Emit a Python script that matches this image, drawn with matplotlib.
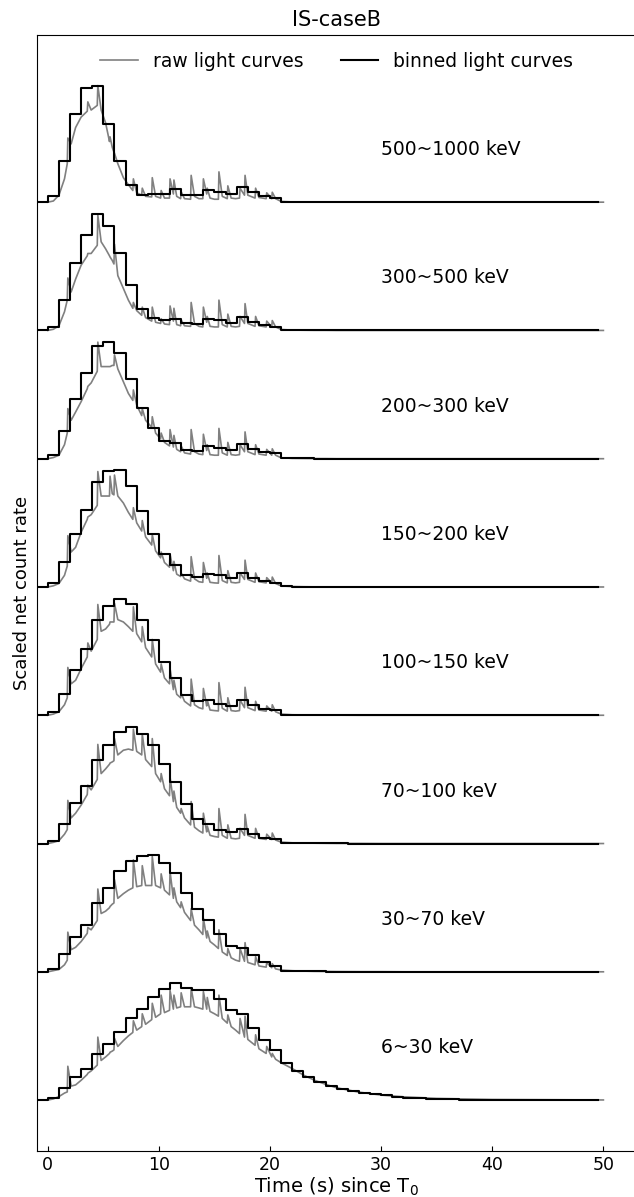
import numpy as np
import matplotlib
matplotlib.use('Agg')
import matplotlib.pyplot as plt

# energy bands (bottom -> top)
bands = ['6~30 keV', '30~70 keV', '70~100 keV', '100~150 keV',
         '150~200 keV', '200~300 keV', '300~500 keV', '500~1000 keV']

# raw light curves: shared time vertices (s)
t_raw = [0.0, 0.5, 1.0, 1.5, 1.75, 1.8, 2.1, 2.5, 3.0, 3.55,
         3.6, 3.9, 4.45, 4.5, 4.8, 5.2, 5.55, 5.6, 5.8, 5.95,
         6.0, 6.3, 6.8, 7.25, 7.65, 7.7, 8.0, 8.45, 8.5, 8.8,
         9.35, 9.4, 9.7, 10.15, 10.2, 10.5, 10.95, 11.0, 11.3, 11.35,
         11.6, 11.95, 12.0, 12.3, 12.85, 12.9, 13.2, 13.6, 13.95, 14.0,
         14.3, 14.35, 14.6, 15.0, 15.35, 15.4, 15.7, 16.15, 16.2, 16.5,
         16.9, 17.25, 17.3, 17.7, 17.75, 18.0, 18.65, 18.7, 19.0, 19.65,
         19.7, 20.15, 20.2, 20.5, 21.0, 22, 23, 24, 25, 26,
         28, 30, 32, 35, 40, 50]

raw_500_1000 = [0.0, 0.01, 0.06, 0.2, 0.33, 0.55, 0.5, 0.64, 0.73, 0.78,
                0.86, 0.79, 0.83, 1.0, 0.79, 0.68, 0.52, 0.56, 0.47, 0.43,
                0.42, 0.33, 0.21, 0.15, 0.1, 0.2, 0.08, 0.06, 0.12, 0.05,
                0.045, 0.21, 0.05, 0.035, 0.1, 0.035, 0.035, 0.2, 0.07, 0.19,
                0.05, 0.03, 0.09, 0.03, 0.025, 0.23, 0.05, 0.03, 0.03, 0.2,
                0.07, 0.12, 0.035, 0.025, 0.025, 0.26, 0.05, 0.03, 0.14, 0.035,
                0.03, 0.035, 0.12, 0.06, 0.23, 0.06, 0.035, 0.12, 0.04, 0.03,
                0.08, 0.03, 0.085, 0.03, 0.006, 0.002, 0.001, 0.001, 0.0, 0.0,
                0.0, 0.0, 0.0, 0.0, 0.0, 0.0]
raw_300_500 = [0.0, 0.01, 0.04, 0.16, 0.26, 0.45, 0.33, 0.44, 0.56, 0.64,
               0.66, 0.66, 0.73, 0.99, 0.76, 0.7, 0.64, 0.63, 0.6, 0.57,
               0.74, 0.47, 0.36, 0.26, 0.19, 0.24, 0.17, 0.13, 0.2, 0.11,
               0.08, 0.2, 0.07, 0.06, 0.1, 0.055, 0.05, 0.21, 0.08, 0.19,
               0.05, 0.04, 0.09, 0.04, 0.035, 0.24, 0.06, 0.035, 0.03, 0.2,
               0.07, 0.12, 0.035, 0.03, 0.03, 0.26, 0.05, 0.03, 0.14, 0.035,
               0.03, 0.035, 0.12, 0.06, 0.23, 0.06, 0.035, 0.12, 0.04, 0.03,
               0.08, 0.03, 0.085, 0.03, 0.008, 0.003, 0.002, 0.001, 0.001, 0.0,
               0.0, 0.0, 0.0, 0.0, 0.0, 0.0]
raw_200_300 = [0.0, 0.01, 0.03, 0.12, 0.22, 0.43, 0.33, 0.4, 0.49, 0.6,
               0.62, 0.65, 0.75, 1.0, 0.79, 0.79, 0.79, 0.79, 0.8, 0.8,
               0.89, 0.77, 0.66, 0.56, 0.5, 0.59, 0.46, 0.37, 0.43, 0.33,
               0.27, 0.36, 0.22, 0.17, 0.22, 0.14, 0.11, 0.25, 0.1, 0.2,
               0.08, 0.06, 0.11, 0.05, 0.04, 0.25, 0.06, 0.04, 0.035, 0.21,
               0.07, 0.12, 0.035, 0.03, 0.03, 0.26, 0.05, 0.03, 0.14, 0.035,
               0.03, 0.035, 0.12, 0.06, 0.23, 0.06, 0.035, 0.12, 0.04, 0.03,
               0.08, 0.03, 0.085, 0.03, 0.008, 0.003, 0.002, 0.001, 0.001, 0.0,
               0.0, 0.0, 0.0, 0.0, 0.0, 0.0]
raw_150_200 = [0.0, 0.01, 0.03, 0.1, 0.18, 0.44, 0.3, 0.34, 0.47, 0.58,
               0.6, 0.62, 0.7, 0.99, 0.78, 0.78, 0.78, 0.95, 0.8, 0.79,
               0.96, 0.78, 0.72, 0.64, 0.58, 0.68, 0.55, 0.48, 0.57, 0.43,
               0.36, 0.45, 0.31, 0.25, 0.3, 0.21, 0.17, 0.28, 0.14, 0.22,
               0.11, 0.09, 0.12, 0.07, 0.05, 0.26, 0.07, 0.045, 0.04, 0.21,
               0.075, 0.12, 0.04, 0.035, 0.033, 0.27, 0.055, 0.035, 0.14, 0.04,
               0.035, 0.04, 0.12, 0.065, 0.23, 0.065, 0.04, 0.12, 0.045, 0.035,
               0.08, 0.035, 0.085, 0.03, 0.009, 0.004, 0.002, 0.001, 0.001, 0.0,
               0.0, 0.0, 0.0, 0.0, 0.0, 0.0]
raw_100_150 = [0.0, 0.01, 0.03, 0.09, 0.15, 0.41, 0.27, 0.3, 0.4, 0.5,
               0.62, 0.55, 0.65, 0.95, 0.72, 0.74, 0.78, 0.8, 0.8, 0.8,
               0.96, 0.82, 0.8, 0.76, 0.72, 0.93, 0.7, 0.63, 0.76, 0.58,
               0.5, 0.65, 0.44, 0.37, 0.44, 0.32, 0.27, 0.4, 0.22, 0.3,
               0.18, 0.15, 0.19, 0.12, 0.08, 0.31, 0.09, 0.065, 0.055, 0.23,
               0.08, 0.13, 0.045, 0.04, 0.037, 0.28, 0.06, 0.035, 0.15, 0.04,
               0.035, 0.04, 0.13, 0.065, 0.24, 0.065, 0.04, 0.12, 0.045, 0.035,
               0.08, 0.035, 0.09, 0.03, 0.01, 0.004, 0.003, 0.002, 0.001, 0.001,
               0.0, 0.0, 0.0, 0.0, 0.0, 0.0]
raw_70_100 = [0.0, 0.01, 0.025, 0.08, 0.12, 0.37, 0.22, 0.26, 0.33, 0.42,
              0.5, 0.46, 0.55, 0.85, 0.6, 0.64, 0.68, 0.69, 0.7, 0.71,
              0.9, 0.76, 0.8, 0.81, 0.8, 0.98, 0.79, 0.76, 0.94, 0.72,
              0.66, 0.9, 0.6, 0.53, 0.6, 0.47, 0.41, 0.57, 0.36, 0.45,
              0.31, 0.26, 0.3, 0.22, 0.16, 0.36, 0.14, 0.11, 0.09, 0.26,
              0.1, 0.15, 0.07, 0.06, 0.055, 0.3, 0.07, 0.045, 0.16, 0.045,
              0.04, 0.045, 0.13, 0.07, 0.25, 0.07, 0.045, 0.13, 0.045, 0.035,
              0.08, 0.035, 0.09, 0.03, 0.012, 0.006, 0.004, 0.003, 0.002, 0.001,
              0.001, 0.0, 0.0, 0.0, 0.0, 0.0]
raw_30_70 = [0.0, 0.01, 0.02, 0.06, 0.1, 0.34, 0.19, 0.21, 0.26, 0.33,
             0.38, 0.36, 0.44, 0.71, 0.5, 0.52, 0.55, 0.56, 0.58, 0.59,
             0.79, 0.63, 0.67, 0.7, 0.72, 0.96, 0.73, 0.74, 0.91, 0.74,
             0.74, 0.99, 0.74, 0.72, 0.84, 0.7, 0.66, 0.86, 0.63, 0.72,
             0.6, 0.55, 0.6, 0.51, 0.44, 0.54, 0.4, 0.36, 0.32, 0.46,
             0.29, 0.35, 0.26, 0.23, 0.2, 0.36, 0.17, 0.14, 0.2, 0.12,
             0.1, 0.09, 0.2, 0.09, 0.25, 0.08, 0.06, 0.13, 0.05, 0.04,
             0.08, 0.035, 0.07, 0.025, 0.015, 0.009, 0.006, 0.004, 0.003, 0.002,
             0.001, 0.001, 0.0, 0.0, 0.0, 0.0]
raw_6_30 = [0.0, 0.01, 0.03, 0.06, 0.07, 0.29, 0.12, 0.13, 0.17, 0.22,
            0.23, 0.25, 0.3, 0.54, 0.34, 0.37, 0.4, 0.41, 0.42, 0.43,
            0.53, 0.46, 0.51, 0.55, 0.58, 0.68, 0.6, 0.63, 0.74, 0.65,
            0.69, 0.83, 0.71, 0.74, 0.9, 0.75, 0.77, 0.94, 0.78, 0.9,
            0.79, 0.8, 0.92, 0.8, 0.8, 0.96, 0.8, 0.79, 0.78, 0.93,
            0.78, 0.88, 0.76, 0.74, 0.72, 0.9, 0.7, 0.66, 0.73, 0.63,
            0.6, 0.57, 0.7, 0.54, 0.72, 0.52, 0.47, 0.56, 0.44, 0.4,
            0.46, 0.37, 0.4, 0.35, 0.32, 0.27, 0.215, 0.17, 0.135, 0.105,
            0.068, 0.043, 0.028, 0.014, 0.005, 0.001]

# binned light curves: 1 s bins, centres -1.5 ... 49.5
t_bin = np.arange(-1.5, 50)
bin_500_1000 = [0, 0,
                0.05, 0.354, 0.757, 0.983, 1.0, 0.671, 0.349, 0.143, 0.063, 0.074,
                0.074, 0.111, 0.063, 0.063, 0.106, 0.091, 0.069, 0.126, 0.083, 0.049,
                0.04, 0.004, 0.002, 0.001, 0.001, 0, 0, 0, 0, 0,
                0, 0, 0, 0, 0, 0, 0, 0, 0, 0,
                0, 0, 0, 0, 0, 0, 0, 0, 0, 0]
bin_300_500 = [0, 0,
               0.03, 0.263, 0.577, 0.82, 1.0, 0.894, 0.666, 0.391, 0.186, 0.109,
               0.086, 0.1, 0.063, 0.057, 0.1, 0.086, 0.063, 0.111, 0.071, 0.043,
               0.029, 0.004, 0.002, 0.001, 0.001, 0, 0, 0, 0, 0,
               0, 0, 0, 0, 0, 0, 0, 0, 0, 0,
               0, 0, 0, 0, 0, 0, 0, 0, 0, 0]
bin_200_300 = [0, 0,
               0.03, 0.237, 0.511, 0.731, 0.969, 1.0, 0.903, 0.683, 0.431, 0.26,
               0.151, 0.131, 0.074, 0.066, 0.111, 0.094, 0.074, 0.126, 0.083, 0.054,
               0.046, 0.005, 0.003, 0.002, 0.001, 0.001, 0, 0, 0, 0,
               0, 0, 0, 0, 0, 0, 0, 0, 0, 0,
               0, 0, 0, 0, 0, 0, 0, 0, 0, 0]
bin_150_200 = [0, 0,
               0.03, 0.214, 0.454, 0.663, 0.9, 0.994, 1.0, 0.866, 0.651, 0.451,
               0.286, 0.191, 0.1, 0.086, 0.114, 0.1, 0.077, 0.123, 0.08, 0.049,
               0.037, 0.005, 0.003, 0.002, 0.001, 0.001, 0, 0, 0, 0,
               0, 0, 0, 0, 0, 0, 0, 0, 0, 0,
               0, 0, 0, 0, 0, 0, 0, 0, 0, 0]
bin_100_150 = [0, 0,
               0.026, 0.186, 0.391, 0.569, 0.814, 0.934, 1.0, 0.951, 0.814, 0.643,
               0.457, 0.323, 0.171, 0.123, 0.129, 0.094, 0.077, 0.129, 0.086, 0.057,
               0.043, 0.006, 0.003, 0.002, 0.001, 0.001, 0, 0, 0, 0,
               0, 0, 0, 0, 0, 0, 0, 0, 0, 0,
               0, 0, 0, 0, 0, 0, 0, 0, 0, 0]
bin_70_100 = [0, 0,
              0.023, 0.166, 0.346, 0.494, 0.714, 0.846, 0.96, 1.0, 0.943, 0.846,
              0.68, 0.531, 0.337, 0.209, 0.166, 0.117, 0.1, 0.123, 0.08, 0.051,
              0.04, 0.008, 0.004, 0.003, 0.002, 0.001, 0.001, 0, 0, 0,
              0, 0, 0, 0, 0, 0, 0, 0, 0, 0,
              0, 0, 0, 0, 0, 0, 0, 0, 0, 0]
bin_30_70 = [0, 0,
             0.023, 0.149, 0.3, 0.4, 0.594, 0.72, 0.863, 0.951, 0.991, 1.0,
             0.937, 0.851, 0.677, 0.537, 0.443, 0.32, 0.223, 0.206, 0.143, 0.086,
             0.049, 0.009, 0.005, 0.004, 0.003, 0.002, 0.001, 0.001, 0, 0,
             0, 0, 0, 0, 0, 0, 0, 0, 0, 0,
             0, 0, 0, 0, 0, 0, 0, 0, 0, 0]
bin_6_30 = [0, 0,
            0.014, 0.106, 0.2, 0.266, 0.391, 0.477, 0.586, 0.7, 0.78, 0.88,
            0.949, 1.0, 0.962, 0.945, 0.945, 0.865, 0.775, 0.74, 0.62, 0.512,
            0.426, 0.317, 0.251, 0.196, 0.157, 0.12, 0.094, 0.078, 0.064, 0.05,
            0.04, 0.03, 0.022, 0.016, 0.012, 0.008, 0.006, 0.004, 0.003, 0.002,
            0.002, 0.001, 0.001, 0.001, 0.001, 0.001, 0.001, 0.001, 0.001, 0.001]

raw_curves = [raw_6_30, raw_30_70, raw_70_100, raw_100_150,
              raw_150_200, raw_200_300, raw_300_500, raw_500_1000]
bin_curves = [bin_6_30, bin_30_70, bin_70_100, bin_100_150,
              bin_150_200, bin_200_300, bin_300_500, bin_500_1000]
step = 1.1  # vertical offset between bands

plt.rcParams['font.size'] = 12.5
fig = plt.figure(figsize=(6.34, 11.97), dpi=100)
ax = fig.add_axes([0.0579, 0.0384, 0.9464, 0.9326])

for i, (lab, raw, binned) in enumerate(zip(bands, raw_curves, bin_curves)):
    off = i * step
    ax.plot(t_raw, np.array(raw) + off, color='gray', lw=1.2,
            label='raw light curves' if i == 0 else None)
    ax.step(t_bin, np.array(binned) + off, where='mid', color='black', lw=1.5,
            label='binned light curves' if i == 0 else None)
    ax.text(30, off + 0.45, lab, ha='left', va='center', fontsize=13.5)

ax.set_xlim(-1, 53)
ax.set_ylim(-0.437, 9.136)
ax.set_xticks([0, 10, 20, 30, 40, 50])
ax.set_yticks([])
ax.tick_params(axis='x', direction='in', length=3.5, labelsize=12.5)
ax.set_xlabel('Time (s) since T$_0$', fontsize=14, labelpad=1)
ax.set_ylabel('Scaled net count rate', fontsize=13)
ax.set_title('IS-caseB', fontsize=15)
ax.legend(loc='upper center', ncol=2, frameon=False, fontsize=13.5)

fig.savefig('out.png', dpi=100)
